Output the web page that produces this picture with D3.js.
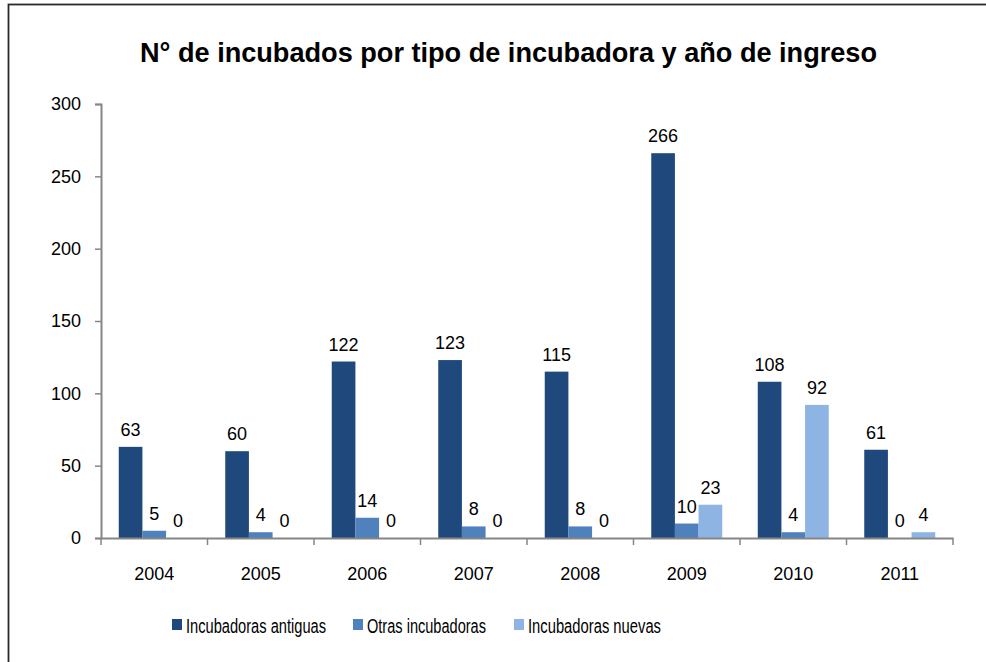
<!DOCTYPE html>
<html>
<head>
<meta charset="utf-8">
<script src="https://cdn.jsdelivr.net/npm/d3@7"></script>
<style>
  body { margin: 0; background: #fff; }
  text { font-family: "Liberation Sans", Arial, sans-serif; }
</style>
</head>
<body>
<div class="chart"></div>
<script>
// data
var years = ["2004", "2005", "2006", "2007", "2008", "2009", "2010", "2011"];
var seriesNames = ["Incubadoras antiguas", "Otras incubadoras", "Incubadoras nuevas"];
var antiguas = [63, 60, 122, 123, 115, 266, 108, 61];
var otras = [5, 4, 14, 8, 8, 10, 4, 0];
var nuevas = [0, 0, 0, 0, 0, 23, 92, 4];
var yTicks = [0, 50, 100, 150, 200, 250, 300];

var colors = ["#1F497D", "#4F81BD", "#8EB4E3"];

var W = 986, H = 662;
var svg = d3.select(".chart").append("svg")
    .attr("width", W)
    .attr("height", H);

// chart frame
svg.append("rect")
    .attr("x", 8.5).attr("y", 4.5)
    .attr("width", W + 20).attr("height", H + 20)
    .attr("fill", "none")
    .attr("stroke", "#2a2a2a")
    .attr("stroke-width", 1.8);

svg.append("text")
    .attr("x", 140).attr("y", 62)
    .attr("font-size", 28)
    .attr("font-weight", "bold")
    .attr("textLength", 737)
    .attr("lengthAdjust", "spacingAndGlyphs")
    .text("N° de incubados por tipo de incubadora  y año de ingreso");

var mLeft = 101, mRight = 953, mTop = 104, mBottom = 538;

var x0 = d3.scaleBand().domain(years).range([mLeft, mRight]);
// gap width 150% -> 3 bars take 3/4.5 of each category
var groupW = x0.bandwidth() * 3 / 4.5;
var x1 = d3.scaleBand().domain([0, 1, 2]).range([0, groupW]);
var y = d3.scaleLinear().domain([0, 300]).range([mBottom, mTop]);

var table = years.map(function(yr, i) {
    return { year: yr, values: [antiguas[i], otras[i], nuevas[i]] };
});

var axisColor = "#868686";

// y axis
var yAxis = svg.append("g")
    .attr("transform", "translate(" + mLeft + ",0)")
    .call(d3.axisLeft(y).tickValues(yTicks).tickSize(6).tickPadding(14));
yAxis.select(".domain").attr("stroke", axisColor).attr("stroke-width", 2);
yAxis.selectAll(".tick line").attr("stroke", axisColor).attr("stroke-width", 1.5);
yAxis.selectAll(".tick text").attr("font-size", 18).attr("fill", "#000")
    .attr("font-family", "Liberation Sans, Arial, sans-serif");

// bars
var groups = svg.selectAll(".grp")
    .data(table)
    .enter()
    .append("g")
    .attr("class", "grp")
    .attr("transform", function(d) {
        return "translate(" + (x0(d.year) + (x0.bandwidth() - groupW) / 2) + ",0)";
    });

groups.selectAll("rect")
    .data(function(d) { return d.values; })
    .enter()
    .append("rect")
    .attr("x", function(d, i) { return x1(i); })
    .attr("y", function(d) { return y(d); })
    .attr("width", x1.bandwidth())
    .attr("height", function(d) { return mBottom - y(d); })
    .attr("fill", function(d, i) { return colors[i]; });

groups.selectAll("text")
    .data(function(d) { return d.values; })
    .enter()
    .append("text")
    .attr("x", function(d, i) { return x1(i) + x1.bandwidth() / 2; })
    .attr("y", function(d) { return y(d) - 11; })
    .attr("text-anchor", "middle")
    .attr("font-size", 18)
    .text(function(d) { return d; });

// x axis
var xAxis = svg.append("g")
    .attr("transform", "translate(0," + mBottom + ")")
    .call(d3.axisBottom(x0).tickSize(0).tickPadding(0).tickSizeOuter(0));
xAxis.select(".domain").attr("stroke", axisColor).attr("stroke-width", 2);
xAxis.selectAll(".tick text")
    .attr("font-size", 18)
    .attr("fill", "#000")
    .attr("font-family", "Liberation Sans, Arial, sans-serif")
    .attr("dy", 0)
    .attr("y", 42);
// boundary ticks between categories
var bounds = years.map(function(yr) { return x0(yr); }).concat([mRight]);
svg.selectAll(".btick")
    .data(bounds)
    .enter()
    .append("line")
    .attr("class", "btick")
    .attr("x1", function(d) { return d; })
    .attr("x2", function(d) { return d; })
    .attr("y1", mBottom)
    .attr("y2", mBottom + 7)
    .attr("stroke", axisColor)
    .attr("stroke-width", 1.5);

// legend
var legendX = [172, 353, 514];
var legendW = [140, 119, 133];
var legend = svg.selectAll(".leg")
    .data(seriesNames)
    .enter()
    .append("g")
    .attr("class", "leg")
    .attr("transform", function(d, i) { return "translate(" + legendX[i] + ",619)"; });

legend.append("rect")
    .attr("width", 10).attr("height", 11)
    .attr("fill", function(d, i) { return colors[i]; });

legend.append("text")
    .attr("x", 14).attr("y", 14)
    .attr("font-size", 20)
    .attr("textLength", function(d, i) { return legendW[i]; })
    .attr("lengthAdjust", "spacingAndGlyphs")
    .text(function(d) { return d; });
</script>
</body>
</html>
